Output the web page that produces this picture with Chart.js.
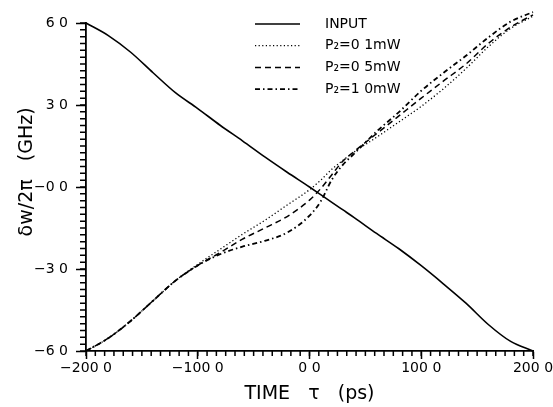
<!DOCTYPE html>
<html>
<head>
<meta charset="utf-8">
<script src="https://cdn.jsdelivr.net/npm/chart.js@4"></script>
<style>
  html, body { margin: 0; padding: 0; background: #fff; }
</style>
</head>
<body>
<canvas id="chirp" width="553" height="407"></canvas>
<script>
// time axis (ps), shared by all curves
const tau = [-200, -180, -160, -140, -120, -100, -80, -60, -40, -20, 0, 10, 20, 30, 40, 60, 80, 100, 120, 140, 160, 180, 200];

// frequency shift (GHz)
const input = [60, 55.4, 49.3, 41.8, 34.5, 28.7, 22.6, 16.9, 11.0, 5.4, 0, -2.8, -5.6, -8.4, -11.2, -17.0, -22.6, -28.8, -35.5, -42.5, -50.3, -56.5, -60];
const p01 = [-60, -55.3, -49, -41.6, -34.3, -28.3, -22.8, -17.3, -12.2, -6.6, -1.0, 2.5, 6.5, 9.8, 12.8, 18.2, 23.8, 29.5, 36, 43.3, 51.3, 58, 62.5];
const p05 = [-60, -55.3, -49, -41.6, -34.3, -28.7, -24.0, -19.1, -15.0, -10.8, -4.8, -0.6, 4.5, 9.5, 13, 19.5, 26, 32.5, 38.8, 45, 52.5, 58.5, 63];
const p10 = [-60, -55.3, -49, -41.6, -34.3, -28.7, -24.6, -21.8, -19.7, -16.7, -10.5, -5.3, 2.7, 8.2, 12.2, 20.3, 27.4, 35.2, 41.8, 48, 54.7, 60.5, 64];

const seriesNames = ['INPUT', 'P₂=0 1mW', 'P₂=0 5mW', 'P₂=1 0mW'];

const xTickValues = [-200, -100, 0, 100, 200];
const xTickLabels = ['−200 0', '−100 0', '0 0', '100 0', '200 0'];
const yTickValues = [-60, -30, 0, 30, 60];
const yTickLabels = ['−6 0', '−3 0', '−0 0', '3 0', '6 0'];
const minorPerMajor = 12;

const font = 'DejaVu Sans';

function series(label, values, width, dash) {
  return {
    label: label,
    data: tau.map((t, i) => ({ x: t, y: values[i] })),
    borderColor: '#000',
    backgroundColor: 'transparent',
    borderWidth: width,
    borderDash: dash,
    pointRadius: 0,
    cubicInterpolationMode: 'monotone',
    clip: false
  };
}

// small ticks between the labelled ones
const minorTicks = {
  id: 'minorTicks',
  afterDraw(chart) {
    const ctx = chart.ctx;
    const x = chart.scales.x;
    const y = chart.scales.y;
    ctx.save();
    ctx.strokeStyle = '#000';
    ctx.lineWidth = 1.5;
    ctx.setLineDash([]);
    ctx.beginPath();
    const nx = (xTickValues.length - 1) * minorPerMajor;
    for (let i = 0; i <= nx; i++) {
      const px = x.getPixelForValue(x.min + i * (x.max - x.min) / nx);
      ctx.moveTo(px, x.top);
      ctx.lineTo(px, x.top + 5);
    }
    const ny = (yTickValues.length - 1) * minorPerMajor;
    for (let i = 0; i <= ny; i++) {
      const py = y.getPixelForValue(y.min + i * (y.max - y.min) / ny);
      ctx.moveTo(y.right, py);
      ctx.lineTo(y.right - 6, py);
    }
    ctx.stroke();
    ctx.restore();
  }
};

// legend drawn inside the plot, top right
const insideLegend = {
  id: 'insideLegend',
  afterDraw(chart) {
    const ctx = chart.ctx;
    ctx.save();
    ctx.font = '14px "' + font + '"';
    ctx.fillStyle = '#000';
    ctx.textBaseline = 'middle';
    chart.data.datasets.forEach((ds, i) => {
      const y = 24 + i * 21.7;
      ctx.beginPath();
      ctx.strokeStyle = '#000';
      ctx.lineWidth = ds.borderWidth;
      ctx.setLineDash(ds.borderDash || []);
      ctx.moveTo(255, y);
      ctx.lineTo(300, y);
      ctx.stroke();
      ctx.setLineDash([]);
      ctx.fillText(ds.label, 325, y);
    });
    ctx.restore();
  }
};

new Chart(document.getElementById('chirp'), {
  type: 'line',
  data: {
    datasets: [
      series(seriesNames[0], input, 1.6, []),
      series(seriesNames[1], p01, 1.3, [1.2, 2.4]),
      series(seriesNames[2], p05, 1.5, [6, 4]),
      series(seriesNames[3], p10, 1.8, [5, 3, 1.5, 3])
    ]
  },
  options: {
    responsive: false,
    animation: false,
    devicePixelRatio: 1,
    layout: { padding: { top: 23, right: 20, left: 0, bottom: 0 } },
    plugins: { legend: { display: false }, tooltip: { enabled: false } },
    scales: {
      x: {
        type: 'linear',
        min: -200,
        max: 200,
        border: { display: true, color: '#000', width: 1.8 },
        grid: { drawOnChartArea: false, drawTicks: true, tickLength: 8, tickWidth: 1.5, color: '#000' },
        afterBuildTicks: (scale) => { scale.ticks = xTickValues.map(v => ({ value: v })); },
        afterFit: (scale) => { scale.height = 56; scale.paddingLeft = 0; scale.paddingRight = 0; },
        ticks: {
          autoSkip: false,
          maxRotation: 0,
          padding: 1,
          color: '#000',
          font: { family: font, size: 14 },
          callback: (v) => xTickLabels[xTickValues.indexOf(v)]
        },
        title: {
          display: true,
          text: 'TIME   τ   (ps)',
          color: '#000',
          font: { family: font, size: 19, lineHeight: 1 },
          padding: { top: 0, bottom: 3 }
        }
      },
      y: {
        type: 'linear',
        min: -60,
        max: 60,
        border: { display: true, color: '#000', width: 1.8 },
        grid: { drawOnChartArea: false, drawTicks: true, tickLength: 10, tickWidth: 1.5, color: '#000' },
        afterBuildTicks: (scale) => { scale.ticks = yTickValues.map(v => ({ value: v })); },
        afterFit: (scale) => { scale.width = 86; scale.paddingTop = 0; scale.paddingBottom = 0; },
        ticks: {
          autoSkip: false,
          padding: 8,
          color: '#000',
          font: { family: font, size: 14 },
          callback: (v) => yTickLabels[yTickValues.indexOf(v)]
        },
        title: {
          display: true,
          text: '     δw/2π   (GHz)',
          color: '#000',
          font: { family: font, size: 19, lineHeight: 1 },
          padding: { top: 18, bottom: 0 }
        }
      }
    }
  },
  plugins: [minorTicks, insideLegend]
});
</script>
</body>
</html>
